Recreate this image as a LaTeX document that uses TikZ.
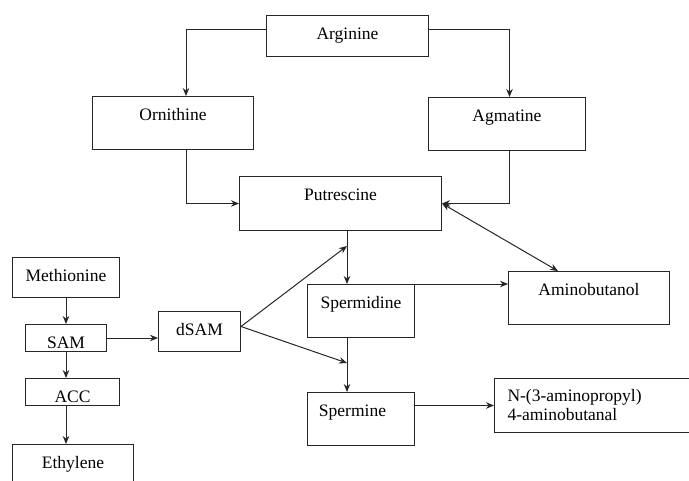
\documentclass[tikz,border=0pt]{standalone}
\usepackage{fontspec}
\setmainfont{Liberation Serif}
\newfontfamily\labelfont{Liberation Serif}
\usetikzlibrary{arrows.meta,calc}
\tikzset{
  plain/.style={draw=black!85, line width=1pt, anchor=north west, inner xsep=0pt, inner ysep=0pt, font=\labelfont\fontsize{17.5}{19}\selectfont},
  compound/.style={plain, text height=24pt},
  arr/.style={draw=black!85, line width=1pt, -{Stealth[length=8pt,width=6.5pt]}},
}
\begin{document}
\begin{tikzpicture}[x=1pt,y=-1pt]
\useasboundingbox (0,0) rectangle (689,480);
\clip (0,0) rectangle (689,480);
% polyamine pathway
\node[compound, minimum width=162pt, text depth=17pt] (arg) at (266,15) {Arginine};
\node[compound, minimum width=161pt, text depth=29pt] (orn) at (92,96) {Ornithine};
\node[compound, minimum width=157pt, text depth=29pt] (agm) at (428,97) {Agmatine};
\node[compound, minimum width=202pt, text depth=30pt] (putr) at (239,176) {Putrescine};
\node[compound, minimum width=107pt, text depth=29pt] (spd) at (307,284) {Spermidine};
\node[compound, minimum width=161pt, text depth=29pt] (amb) at (508,271) {Aminobutanol};
\node[compound, minimum width=107pt, text depth=29pt] (spm) at (307,392) {Spermine\kern17pt};
\node[plain, minimum height=54pt] (nap) at (494,378)
  {\parbox{207pt}{\leftskip=13pt N-(3-aminopropyl)\\4-aminobutanal}};
% ethylene branch
\node[compound, minimum width=107pt, text depth=16pt] (met) at (12,257) {Methionine};
\node[compound, minimum width=81pt, text depth=3pt] (sam) at (25,324) {SAM};
\node[compound, minimum width=94pt, text depth=3pt] (acc) at (25,378) {ACC};
\node[compound, minimum width=121pt, text depth=40pt] (eth) at (12,444) {Ethylene};
\node[compound, minimum width=82pt, text depth=16pt] (dsam) at (158,311) {dSAM};
\coordinate (col) at (347,0);
\coordinate (j1) at (347,246);
\coordinate (j2) at (347,363);
% connectors
\draw[arr] ([yshift=6.5pt]arg.west) -| ([xshift=13pt]orn.north);
\draw[arr] ([yshift=6.5pt]arg.east) -| ([xshift=2.5pt]agm.north);
\draw[arr] ([xshift=13pt]orn.south) |- (putr.west);
\draw[arr] ([xshift=2.5pt]agm.south) |- (putr.east);
\draw[arr] (putr.south -| col) -- (spd.north -| col);
\draw[arr] (spd.south -| col) -- (spm.north -| col);
\draw[arr] (spd.north east) -- (spd.north east -| amb.west);
\draw[arr, {Stealth[length=8pt,width=6.5pt]}-{Stealth[length=8pt,width=6.5pt]}] (putr.east) -- ([xshift=-31pt]amb.north);
\draw[arr] (spm.east |- nap.west) -- (nap.west);
\draw[arr] (met.south) -- (sam.north);
\draw[arr] (sam.south) -- (sam.south |- acc.north);
\draw[arr] (sam.south |- acc.south) -- (sam.south |- eth.north);
\draw[arr] (sam.east) -- (sam.east -| dsam.west);
\draw[arr] ([yshift=5pt]dsam.east) -- (j1);
\draw[arr] ([yshift=5pt]dsam.east) -- (j2);
\end{tikzpicture}
\end{document}
